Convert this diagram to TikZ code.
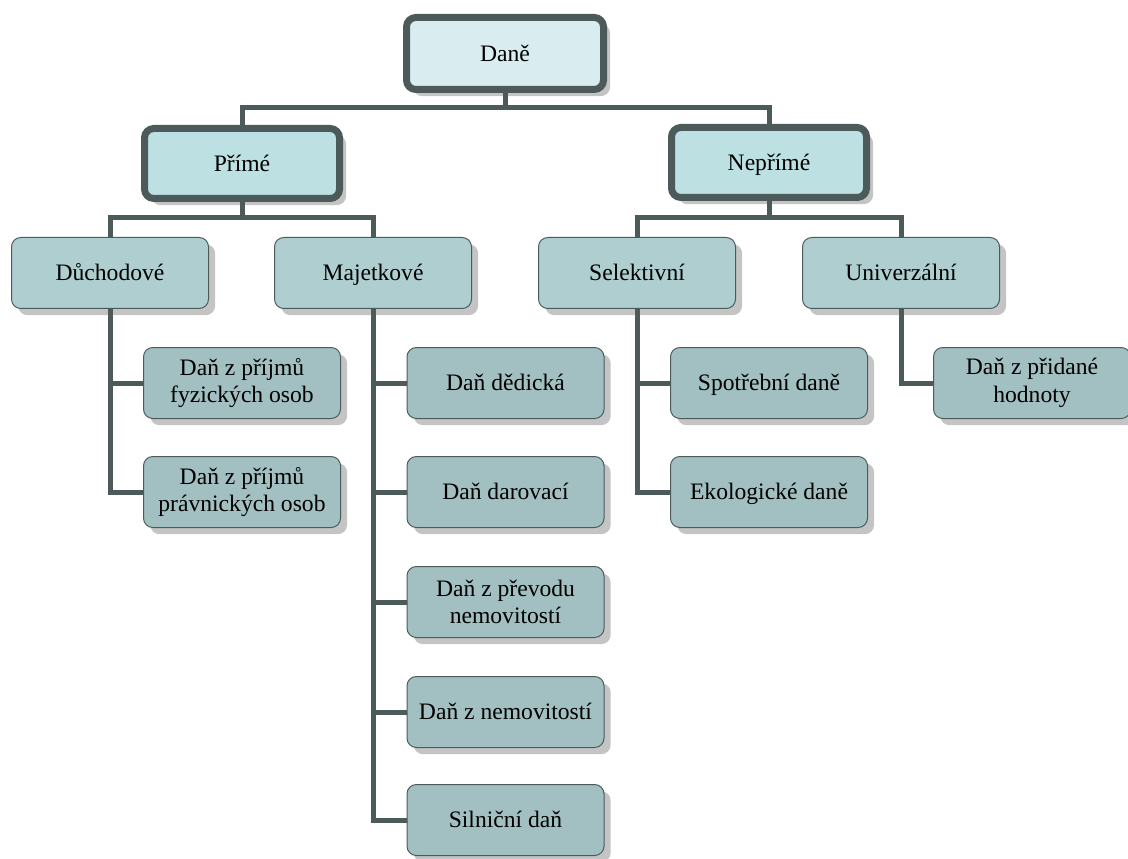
\documentclass[tikz,border=0pt]{standalone}
\usepackage{fontspec}
\setmainfont{Liberation Serif}
\usetikzlibrary{shadows}
\definecolor{edgecol}{HTML}{4D5A5A}
\definecolor{topfill}{HTML}{D9EDF0}
\definecolor{lonefill}{HTML}{BDE0E3}
\definecolor{ltwofill}{HTML}{AECED0}
\definecolor{leaffill}{HTML}{A2C0C1}
\definecolor{shadowcol}{HTML}{C4C4C4}
\begin{document}
\begin{tikzpicture}[x=0.75pt,y=-0.75pt,
  box/.style={rectangle, rounded corners=7pt, align=center, inner sep=0pt,
    font=\fontsize{17.7}{20.5}\selectfont,
    drop shadow={shadow xshift=5pt, shadow yshift=-5pt, fill=shadowcol, opacity=1}},
  oneline/.style={text height=11.7pt, text depth=0pt},
  topbox/.style={box, oneline, draw=edgecol, line width=5.25pt, fill=topfill,
    minimum width=147.75pt, minimum height=54pt},
  lonebox/.style={box, oneline, draw=edgecol, line width=5.25pt, fill=lonefill,
    minimum width=146.25pt, minimum height=52.5pt},
  ltwobox/.style={box, oneline, draw=edgecol, line width=0.75pt, fill=ltwofill,
    minimum width=147.75pt, minimum height=53.25pt},
  leafbox/.style={box, draw=edgecol, line width=0.75pt, fill=leaffill,
    minimum width=147.75pt, minimum height=53.25pt},
  conn/.style={draw=edgecol, line width=3.75pt}
]
\useasboundingbox (0,0) rectangle (1128,859);

\node[topbox] (dane) at (505,53.5) {Daně};
\node[lonebox] (prime) at (242,163.5) {Přímé};
\node[lonebox] (neprime) at (769,162.5) {Nepřímé};

\node[ltwobox] (duch) at (110,273) {Důchodové};
\node[ltwobox] (maj) at (373,273) {Majetkové};
\node[ltwobox] (sel) at (637,273) {Selektivní};
\node[ltwobox] (uni) at (901,273) {Univerzální};

\node[leafbox] (fyz) at (242,383) {Daň z příjmů\\fyzických osob};
\node[leafbox] (prav) at (242,492) {Daň z příjmů\\právnických osob};

\node[leafbox, oneline] (ded) at (505.5,383) {Daň dědická};
\node[leafbox, oneline] (dar) at (505.5,492) {Daň darovací};
\node[leafbox] (prev) at (505.5,602) {Daň z převodu\\nemovitostí};
\node[leafbox, oneline] (nem) at (505.5,712) {Daň z nemovitostí};
\node[leafbox, oneline] (siln) at (505.5,820) {Silniční daň};

\node[leafbox, oneline] (spot) at (769,383) {Spotřební daně};
\node[leafbox, oneline] (eko) at (769,492) {Ekologické daně};

\node[leafbox] (dph) at (1032,383) {Daň z přidané\\hodnoty};

\coordinate (bA) at (505,108);
\coordinate (bB) at (242,218);
\coordinate (bC) at (769,218);

\draw[conn] (dane.south) -- (bA) -| (prime.north);
\draw[conn] (bA) -| (neprime.north);
\draw[conn] (prime.south) -- (bB) -| (duch.north);
\draw[conn] (bB) -| (maj.north);
\draw[conn] (neprime.south) -- (bC) -| (sel.north);
\draw[conn] (bC) -| (uni.north);

\draw[conn] (duch.south) |- (fyz.west);
\draw[conn] (duch.south) |- (prav.west);
\draw[conn] (maj.south) |- (ded.west);
\draw[conn] (maj.south) |- (dar.west);
\draw[conn] (maj.south) |- (prev.west);
\draw[conn] (maj.south) |- (nem.west);
\draw[conn] (maj.south) |- (siln.west);
\draw[conn] (sel.south) |- (spot.west);
\draw[conn] (sel.south) |- (eko.west);
\draw[conn] (uni.south) |- (dph.west);
\end{tikzpicture}
\end{document}
